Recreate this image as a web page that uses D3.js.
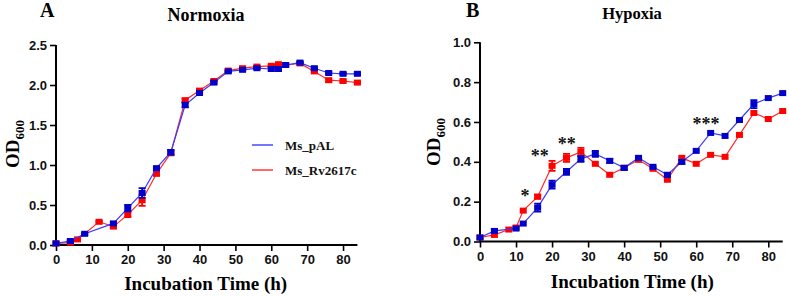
<!DOCTYPE html>
<html><head><meta charset="utf-8">
<script src="https://cdn.jsdelivr.net/npm/d3@7"></script>
<style>
html,body{margin:0;padding:0;background:#fff;}
svg text{font-family:"Liberation Serif","Times New Roman",serif;}
.tick text{font-family:"Liberation Sans",Arial,sans-serif;font-weight:bold;font-size:13px;fill:#111;}
</style></head>
<body><svg id="c" width="789" height="297"></svg>
<script>
// ---------- data ----------
const seriesNames = ["Ms_pAL", "Ms_Rv2617c"];
const yTicksA = [0, 0.5, 1.0, 1.5, 2.0, 2.5];
const yTicksB = [0, 0.2, 0.4, 0.6, 0.8, 1.0];
const xTicks = [0, 10, 20, 30, 40, 50, 60, 70, 80];

// Panel A – Normoxia
const timeA_pAL = [0,4,8,16,20,24,28,32,36,40,44,48,52,56,60,62,64,68,72,76,80,84];
const odA_pAL   = [0.02,0.05,0.14,0.27,0.46,0.65,0.96,1.16,1.75,1.90,2.03,2.17,2.19,2.21,2.20,2.20,2.25,2.28,2.21,2.15,2.14,2.14];
const errA_pAL  = [0,0.01,0.01,0.02,0.04,0.06,0.02,0.03,0.03,0.02,0.02,0.01,0.01,0.01,0.02,0.02,0.01,0.01,0.01,0.01,0.01,0.01];
const timeA_Rv  = [0,4,6,12,16,20,24,28,32,36,40,44,48,52,56,60,62,64,68,72,76,80,84];
const odA_Rv    = [0.02,0.03,0.07,0.29,0.23,0.38,0.56,0.89,1.15,1.81,1.93,2.05,2.18,2.21,2.23,2.24,2.26,2.25,2.27,2.17,2.06,2.05,2.03];
const errA_Rv   = [0,0.01,0.01,0.01,0.02,0.03,0.07,0.02,0.03,0.02,0.02,0.01,0.01,0.01,0.01,0.01,0.01,0.01,0.01,0.01,0.02,0.01,0.01];

// Panel B – Hypoxia
const timeB_pAL = [0,4,10,12,16,20,24,28,32,36,40,44,48,52,56,60,64,68,72,76,80,84];
const odB_pAL   = [0.02,0.053,0.065,0.09,0.17,0.285,0.35,0.415,0.44,0.405,0.37,0.42,0.375,0.335,0.40,0.455,0.545,0.53,0.61,0.69,0.72,0.745];
const errB_pAL  = [0,0.01,0.005,0.005,0.02,0.02,0.015,0.015,0.015,0.01,0.01,0.005,0.005,0.01,0.01,0.005,0.005,0.005,0.01,0.02,0.005,0.005];
const timeB_Rv  = [0,4,8,10,12,16,20,24,28,32,36,40,44,48,52,56,60,64,68,72,76,80,84];
const odB_Rv    = [0.02,0.033,0.06,0.07,0.155,0.225,0.38,0.42,0.45,0.39,0.335,0.37,0.41,0.365,0.31,0.42,0.39,0.435,0.425,0.535,0.645,0.615,0.655];
const errB_Rv   = [0,0.005,0.005,0.005,0.005,0.01,0.025,0.02,0.02,0.005,0.005,0.005,0.005,0.005,0.005,0.005,0.005,0.005,0.005,0.005,0.005,0.005,0.005];

// significance marks (panel B)
const sigLabels = ["*", "**", "**", "***"];
const sigTime   = [12.5, 16.6, 24.1, 62.7];
const sigOD     = [0.25, 0.45, 0.51, 0.61];

// ---------- drawing ----------
const svg = d3.select("#c");
const colors = {pAL: {line:"#3a3aff", mark:"#0000c8"}, Rv: {line:"#ff2a2a", mark:"#ff0000"}};

function zip(t, v, e){ return t.map((d,i)=>({t:d, v:v[i], e:e[i]})); }

function panel(opt){
  const x = d3.scaleLinear().domain([0,84]).range(opt.xr);
  const y = d3.scaleLinear().domain(opt.yd).range(opt.yr);
  const g = svg.append("g");
  const ya = g.append("g").attr("transform",`translate(${x(0)},0)`)
    .call(d3.axisLeft(y).tickValues(opt.yTicks).tickFormat(d3.format(".1f")).tickSize(6).tickPadding(3));
  const xa = g.append("g").attr("transform",`translate(0,${y(0)})`)
    .call(d3.axisBottom(x).tickValues(xTicks).tickFormat(d3.format("d")).tickSize(6).tickPadding(4));
  [ya, xa].forEach(a=>{
    a.select(".domain").attr("stroke","#000").attr("stroke-width",2);
    a.selectAll(".tick line").attr("stroke","#000").attr("stroke-width",1.6);
  });
  ya.select(".domain").attr("d",`M0,${y(opt.yd[1])}V${y(0)}`);
  xa.select(".domain").attr("d",`M${x(0)},0H${x(84)}`);

  opt.series.forEach(s=>{
    const data = s.data;
    const line = d3.line().x(d=>x(d.t)).y(d=>y(d.v));
    g.append("path").datum(data).attr("d",line).attr("fill","none")
      .attr("stroke",s.c.line).attr("stroke-width",1.2);
    const eb = g.append("g");
    data.filter(d=>d.e>0.008).forEach(d=>{
      const cx = x(d.t), y1 = y(d.v+d.e), y2 = y(d.v-d.e);
      eb.append("path").attr("d",`M${cx},${y1}V${y2}M${cx-3.5},${y1}H${cx+3.5}M${cx-3.5},${y2}H${cx+3.5}`)
        .attr("stroke",s.c.mark).attr("stroke-width",1.8).attr("fill","none");
    });
    g.append("g").selectAll("rect").data(data).join("rect")
      .attr("x",d=>x(d.t)-3.5).attr("y",d=>y(d.v)-3).attr("width",7).attr("height",6)
      .attr("fill",s.c.mark);
  });

  g.append("text").attr("x",opt.letter[0]).attr("y",opt.letter[1]).text(opt.letterText)
    .attr("font-size",20).attr("font-weight","bold");
  g.append("text").attr("x",opt.title[0]).attr("y",opt.title[1]).text(opt.titleText)
    .attr("text-anchor","middle").attr("font-size",opt.titleSize).attr("font-weight","bold");
  g.append("text").attr("x",(opt.xr[0]+x(84))/2 + opt.xlabDx).attr("y",opt.xlabY)
    .attr("text-anchor","middle").attr("font-size",19).attr("font-weight","bold").text("Incubation Time (h)");
  const yl = g.append("text").attr("transform",`translate(${opt.ylab[0]},${opt.ylab[1]}) rotate(-90)`)
    .attr("text-anchor","middle").attr("font-size",19).attr("font-weight","bold");
  yl.append("tspan").text("OD");
  yl.append("tspan").attr("font-size",13).attr("dy",5).text("600");
  return {g,x,y};
}

const A = panel({
  xr:[56,357.4], yd:[0,2.5], yr:[245,45], yTicks:yTicksA,
  series:[{data:zip(timeA_Rv,odA_Rv,errA_Rv), c:colors.Rv},{data:zip(timeA_pAL,odA_pAL,errA_pAL), c:colors.pAL}],
  letter:[40,17], letterText:"A", title:[206,21], titleText:"Normoxia", titleSize:18,
  xlabDx:-1, xlabY:290, ylab:[19,144]
});
const B = panel({
  xr:[480,782.7], yd:[0,1], yr:[241.5,42.3], yTicks:yTicksB,
  series:[{data:zip(timeB_Rv,odB_Rv,errB_Rv), c:colors.Rv},{data:zip(timeB_pAL,odB_pAL,errB_pAL), c:colors.pAL}],
  letter:[466,17], letterText:"B", title:[632,19], titleText:"Hypoxia", titleSize:16.5,
  xlabDx:1, xlabY:288, ylab:[440,142]
});

const lg = A.g.append("g");
[["pAL",0],["Rv",1]].forEach(([k,i])=>{
  const yy = 145 + i*25;
  lg.append("line").attr("x1",252).attr("x2",273).attr("y1",yy).attr("y2",yy)
    .attr("stroke",colors[k].line).attr("stroke-width",1.4);
  lg.append("text").attr("x",285).attr("y",yy+4.5).attr("font-size",13).attr("font-weight","bold")
    .attr("fill","#111").text(seriesNames[i]);
});

B.g.append("g").selectAll("text").data(sigLabels).join("text")
  .attr("x",(d,i)=>B.x(sigTime[i])).attr("y",(d,i)=>B.y(sigOD[i])+10)
  .attr("text-anchor","middle").attr("font-family","Liberation Sans, Arial, sans-serif")
  .attr("font-weight","bold").attr("font-size",18).attr("fill","#111").text(d=>d);
</script></body></html>
